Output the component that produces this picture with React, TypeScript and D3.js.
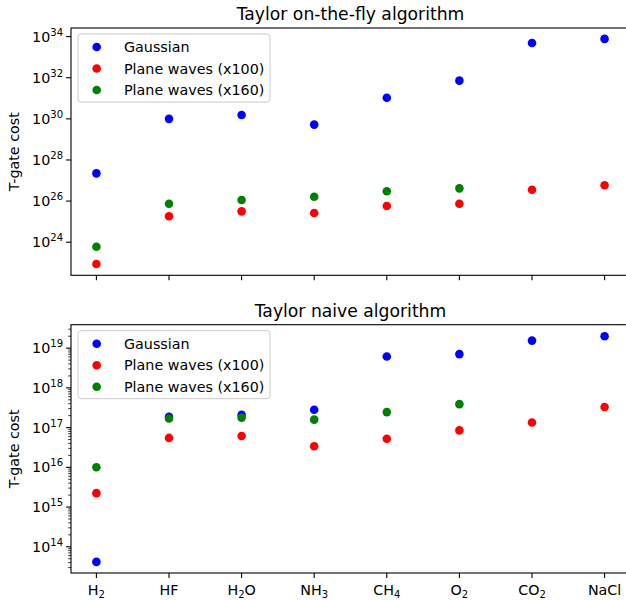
import * as d3 from "d3";

// molecule labels: [base, subscript, rest]
const molecules: [string, string, string][] = [
  ["H", "2", ""],
  ["HF", "", ""],
  ["H", "2", "O"],
  ["NH", "3", ""],
  ["CH", "4", ""],
  ["O", "2", ""],
  ["CO", "2", ""],
  ["NaCl", "", ""],
];

const seriesNames = ["Gaussian", "Plane waves (x100)", "Plane waves (x160)"];
const seriesColors = ["#0000ff", "#ff0000", "#008000"];

// log10 of T-gate cost, null = no point
const flyGaussian = [27.35, 30.0, 30.19, 29.72, 31.03, 31.86, 33.69, 33.89];
const flyPW100 = [22.94, 25.26, 25.5, 25.42, 25.76, 25.87, 26.55, 26.77];
const flyPW160 = [23.78, 25.87, 26.05, 26.21, 26.48, 26.62, null, null];

const naiveGaussian = [13.62, 17.27, 17.32, 17.45, 18.79, 18.85, 19.19, 19.3];
const naivePW100 = [15.35, 16.74, 16.79, 16.53, 16.72, 16.93, 17.13, 17.52];
const naivePW160 = [16.0, 17.23, 17.25, 17.2, 17.39, 17.59, null, null];

const flyTicks = [24, 26, 28, 30, 32, 34];
const naiveTicks = [14, 15, 16, 17, 18, 19];

const W = 626;
const H = 600;
const left = 71;
const right = 630;
const font = "DejaVu Sans, sans-serif";
const fs = 14.3;
const fsSmall = 10;

type Panel = {
  title: string;
  top: number;
  bottom: number;
  domain: [number, number];
  ticks: number[];
  minor: boolean;
  series: (number | null)[][];
  xLabels: boolean;
};

const panels: Panel[] = [
  {
    title: "Taylor on-the-fly algorithm",
    top: 28,
    bottom: 275.3,
    domain: [22.39, 34.42],
    ticks: flyTicks,
    minor: false,
    series: [flyGaussian, flyPW100, flyPW160],
    xLabels: false,
  },
  {
    title: "Taylor naive algorithm",
    top: 324.7,
    bottom: 573,
    domain: [13.34, 19.59],
    ticks: naiveTicks,
    minor: true,
    series: [naiveGaussian, naivePW100, naivePW160],
    xLabels: true,
  },
];

const x = d3
  .scaleLinear()
  .domain([-0.35, molecules.length - 1 + 0.35])
  .range([left, right]);

function PanelView({ p }: { p: Panel }) {
  const y = d3.scaleLinear().domain(p.domain).range([p.bottom, p.top]);
  const minorTicks: number[] = [];
  if (p.minor) {
    for (let d = Math.floor(p.domain[0]); d <= Math.ceil(p.domain[1]); d++) {
      for (let k = 2; k <= 9; k++) {
        const v = d + Math.log10(k);
        if (v >= p.domain[0] && v <= p.domain[1]) minorTicks.push(v);
      }
    }
  }
  const mid = (p.top + p.bottom) / 2;
  return (
    <g>
      <text
        x={(left + right) / 2}
        y={p.top - 8}
        textAnchor="middle"
        fontSize={17.2}
        fontFamily={font}
      >
        {p.title}
      </text>
      <text
        transform={`translate(19,${mid}) rotate(-90)`}
        textAnchor="middle"
        fontSize={fs}
        fontFamily={font}
      >
        T-gate cost
      </text>

      {/* points */}
      {p.series.map((s, si) =>
        s.map((v, i) =>
          v === null ? null : (
            <circle
              key={`${si}-${i}`}
              cx={x(i)}
              cy={y(v)}
              r={4.3}
              fill={seriesColors[si]}
            />
          )
        )
      )}

      {/* y ticks */}
      {minorTicks.map((v, i) => (
        <line
          key={"m" + i}
          x1={left}
          x2={left - 2.8}
          y1={y(v)}
          y2={y(v)}
          stroke="#000"
          strokeWidth={0.8}
        />
      ))}
      {p.ticks.map((t) => (
        <g key={t}>
          <line
            x1={left}
            x2={left - 4.9}
            y1={y(t)}
            y2={y(t)}
            stroke="#000"
            strokeWidth={1.1}
          />
          <text
            x={left - 8}
            y={y(t) + 5}
            textAnchor="end"
            fontSize={fs}
            fontFamily={font}
          >
            10
            <tspan dy={-6} fontSize={fsSmall}>
              {t}
            </tspan>
          </text>
        </g>
      ))}

      {/* x ticks */}
      {molecules.map((m, i) => (
        <g key={i}>
          <line
            x1={x(i)}
            x2={x(i)}
            y1={p.bottom}
            y2={p.bottom + 4.9}
            stroke="#000"
            strokeWidth={1.1}
          />
          {p.xLabels && (
            <text
              x={x(i)}
              y={p.bottom + 22}
              textAnchor="middle"
              fontSize={fs}
              fontFamily={font}
            >
              {m[0]}
              {m[1] && (
                <tspan dy={3} fontSize={fsSmall}>
                  {m[1]}
                </tspan>
              )}
              {m[2] && <tspan dy={-3}>{m[2]}</tspan>}
            </text>
          )}
        </g>
      ))}

      {/* frame */}
      <rect
        x={left}
        y={p.top}
        width={right - left}
        height={p.bottom - p.top}
        fill="none"
        stroke="#000"
        strokeWidth={1.1}
      />

      {/* legend */}
      <g transform={`translate(78,${p.top + 6})`}>
        <rect
          width={192}
          height={68}
          rx={3}
          fill="#fff"
          fillOpacity={0.8}
          stroke="#cccccc"
          strokeWidth={1}
        />
        {seriesNames.map((name, i) => (
          <g key={name} transform={`translate(0,${13 + i * 21.5})`}>
            <circle cx={18.7} cy={0} r={4.3} fill={seriesColors[i]} />
            <text x={46} y={5} fontSize={fs} fontFamily={font}>
              {name}
            </text>
          </g>
        ))}
      </g>
    </g>
  );
}

export default function App() {
  return (
    <svg
      width={W}
      height={H}
      viewBox={`0 0 ${W} ${H}`}
      style={{ display: "block", position: "absolute", left: 0, top: 0 }}
    >
      <rect width={W} height={H} fill="#fff" />
      {panels.map((p) => (
        <PanelView key={p.title} p={p} />
      ))}
    </svg>
  );
}
